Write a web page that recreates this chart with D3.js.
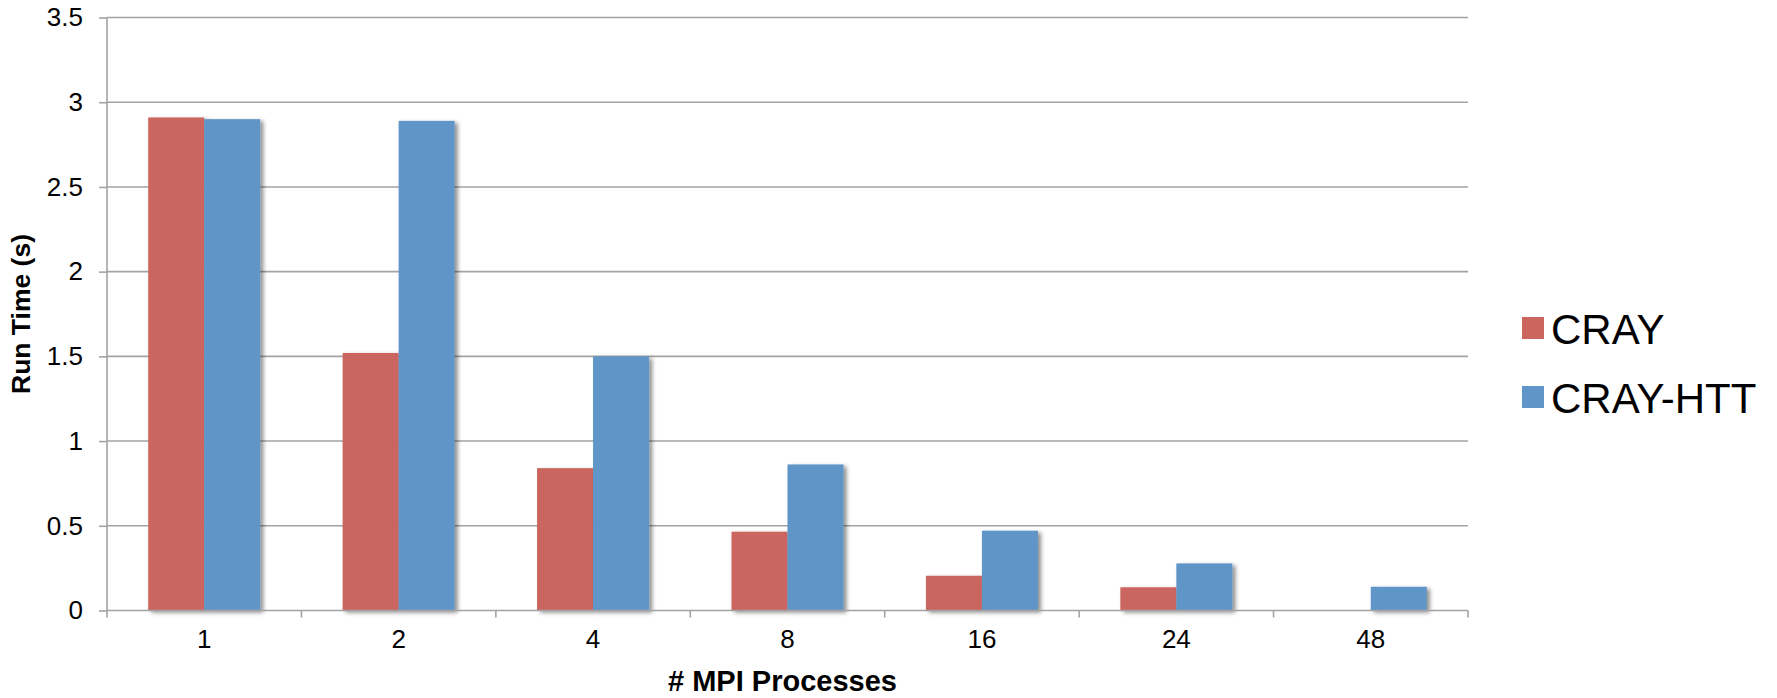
<!DOCTYPE html>
<html><head><meta charset="utf-8">
<script src="https://cdn.jsdelivr.net/npm/d3@7"></script>
<style>html,body{margin:0;padding:0;background:#fff;}svg{display:block;font-family:"Liberation Sans",Arial,sans-serif;}</style>
</head><body>
<svg id="c" width="1777" height="698"></svg>
<script>
const categories = ["1","2","4","8","16","24","48"];
const seriesNames = ["CRAY","CRAY-HTT"];
const cray    = [2.91, 1.52, 0.84, 0.465, 0.205, 0.137, null];
const crayHTT = [2.90, 2.89, 1.50, 0.862, 0.471, 0.278, 0.14];
const yTicks = [0,0.5,1,1.5,2,2.5,3,3.5];
const colors = ["#CB655E","#6095C7"];

const svg = d3.select("#c");
const L = 107, R = 1468, T = 17.5, B = 610.5;
const x = d3.scaleBand().domain(categories).range([L,R]).paddingInner(0).paddingOuter(0);
const x1 = d3.scaleBand().domain(seriesNames).range([0, x.bandwidth()]).paddingInner(0).paddingOuter(0.7357);
const y = d3.scaleLinear().domain([0,3.5]).range([B,T]);

const defs = svg.append("defs");
const f = defs.append("filter").attr("id","sh").attr("x","-20%").attr("y","-20%").attr("width","150%").attr("height","150%");
f.append("feDropShadow").attr("dx",3).attr("dy",2).attr("stdDeviation",2).attr("flood-color","#000").attr("flood-opacity",0.45);

// gridlines
svg.append("g").selectAll("line").data(yTicks.filter(d=>d>0)).join("line")
  .attr("x1",L).attr("x2",R).attr("y1",d=>y(d)).attr("y2",d=>y(d))
  .attr("stroke","#a3a3a3").attr("stroke-width",1.6);

// y axis
const ya = svg.append("g").attr("transform",`translate(${L},0)`)
  .call(d3.axisLeft(y).tickValues(yTicks).tickSize(8).tickPadding(16).tickFormat(d=>d3.format("")(d)));
ya.select(".domain").attr("stroke","#a3a3a3").attr("stroke-width",1.6).attr("d",`M0,${T}V${B}`);
ya.selectAll(".tick line").attr("stroke","#a3a3a3").attr("stroke-width",1.6);
ya.selectAll(".tick text").attr("font-size",26).attr("fill","#000").attr("font-family","Liberation Sans, Arial, sans-serif");

// bars
const data = categories.map((c,i)=>({c, vals:[cray[i],crayHTT[i]]}));
const g = svg.append("g");
data.forEach(d=>{
  d.vals.forEach((v,j)=>{
    if (v==null) return;
    g.append("rect")
      .attr("x", x(d.c)+x1(seriesNames[j]))
      .attr("width", x1.bandwidth())
      .attr("y", y(v)).attr("height", y(0)-y(v))
      .attr("fill", colors[j]).attr("filter","url(#sh)");
  });
});

// x axis
const xa = svg.append("g").attr("transform",`translate(0,${B})`);
xa.append("line").attr("x1",L).attr("x2",R).attr("stroke","#a3a3a3").attr("stroke-width",1.6);
const bounds = d3.range(categories.length+1).map(i=> i<categories.length ? x(categories[i]) : R);
xa.selectAll("line.tk").data(bounds).join("line").attr("class","tk")
  .attr("x1",d=>d).attr("x2",d=>d).attr("y1",0).attr("y2",7).attr("stroke","#a3a3a3").attr("stroke-width",1.6);
xa.selectAll("text").data(categories).join("text")
  .attr("x",d=>x(d)+x.bandwidth()/2).attr("y",37).attr("text-anchor","middle")
  .attr("font-size",26).attr("fill","#000").text(d=>d);

// axis titles
svg.append("text").attr("x",(L+R)/2 - 5).attr("y",691).attr("text-anchor","middle")
  .attr("font-size",29).attr("font-weight","bold").text("# MPI Processes");
svg.append("text").attr("transform",`translate(30,${(T+B)/2}) rotate(-90)`).attr("text-anchor","middle")
  .attr("font-size",26.5).attr("font-weight","bold").text("Run Time (s)");

// legend
const lg = svg.append("g");
seriesNames.forEach((s,i)=>{
  const cy = 328 + i*69;
  lg.append("rect").attr("x",1522).attr("y",cy-11).attr("width",22).attr("height",22).attr("fill",colors[i]);
  lg.append("text").attr("x",1551).attr("y",cy+16).attr("font-size",42).attr("fill","#000").text(s);
});
</script>
</body></html>
